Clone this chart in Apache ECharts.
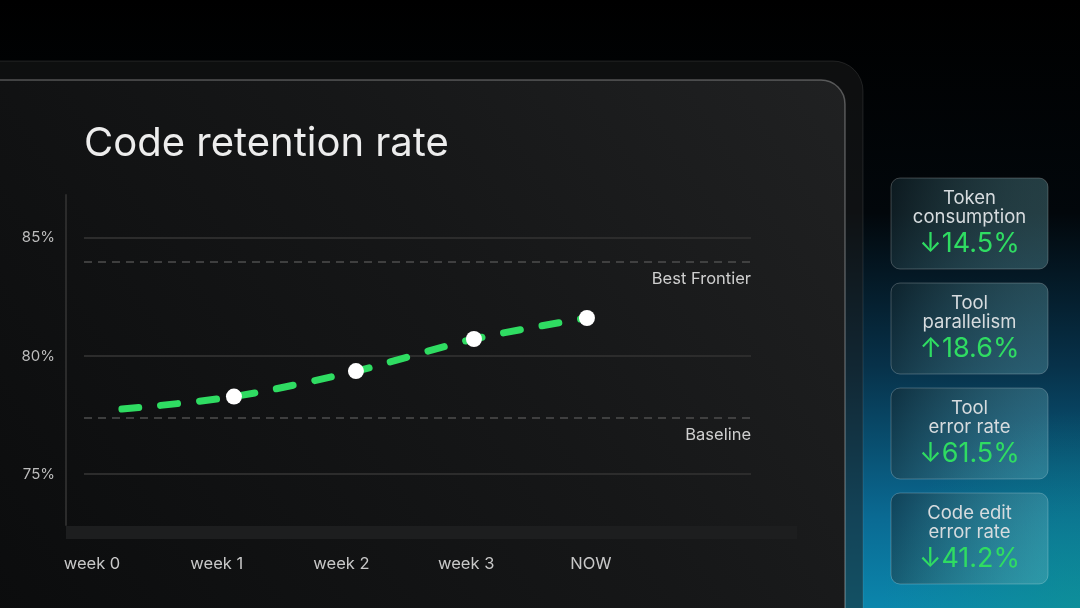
<!DOCTYPE html>
<html>
<head>
<meta charset="utf-8">
<title>Code retention rate</title>
<script src="https://cdn.jsdelivr.net/npm/echarts@6/dist/echarts.min.js"></script>
<style>
  html, body { margin: 0; padding: 0; background: #000; }
  #chart { width: 1080px; height: 608px; }
</style>
</head>
<body>
<div id="chart"></div>
<script>
var weekLabels = ["week 0", "week 1", "week 2", "week 3", "NOW"];
var weekTicks = [0, 1, 2, 3, 4];
// x is in "weeks", the points sit a little off the label ticks
var retentionX = [0.24, 1.138, 2.116, 3.062, 3.968];
var retentionY = [77.75, 78.28, 79.36, 80.72, 81.61];
var yTicks = [75, 80, 85];
var refNames = ["Best Frontier", "Baseline"];
var refValues = [84.0, 77.4];

var cardLabels = [
  ["Token", "consumption"],
  ["Tool", "parallelism"],
  ["Tool", "error rate"],
  ["Code edit", "error rate"]
];
var cardValues = ["\u219314.5%", "\u219118.6%", "\u219361.5%", "\u219341.2%"];

var font = "Inter, 'Open Sans', sans-serif";
var green = "#2fdc62";

var points = retentionX.map(function (x, i) {
  var p = { value: [x, retentionY[i]] };
  if (i == 0) p.symbol = "none";
  return p;
});

var refLines = refValues.map(function (v, i) {
  return { yAxis: v, name: refNames[i] };
});

// background frame + panels
var graphics = [
  {
    type: "rect", z: -10, silent: true,
    shape: { x: -40, y: 61, width: 903, height: 620, r: 30 },
    style: { fill: "rgba(28,28,28,0.5)", stroke: "rgba(255,255,255,0.10)", lineWidth: 1 }
  },
  {
    type: "rect", z: -9, silent: true,
    shape: { x: -40, y: 80, width: 885, height: 600, r: 24 },
    style: {
      fill: new echarts.graphic.LinearGradient(0, 1, 1, 0, [
        { offset: 0, color: "#0a0b0c" },
        { offset: 0.6, color: "#161718" },
        { offset: 1, color: "#202122" }
      ]),
      stroke: "rgba(255,255,255,0.28)", lineWidth: 1.5
    }
  },
  {
    type: "rect", z: -8, silent: true,
    shape: { x: 66, y: 526, width: 731, height: 13 },
    style: { fill: "#1d1e1f" }
  },
  {
    // teal glow bottom right
    type: "rect", z: -11, silent: true,
    shape: { x: 860, y: 300, width: 220, height: 308 },
    style: {
      fill: new echarts.graphic.RadialGradient(1, 1, 0.9, [
        { offset: 0, color: "rgba(16,150,140,0.55)" },
        { offset: 1, color: "rgba(16,150,140,0)" }
      ])
    }
  }
];

cardLabels.forEach(function (lines, i) {
  var top = 178 + i * 105;
  graphics.push({
    type: "rect", z: -5, silent: true,
    shape: { x: 891, y: top, width: 157, height: 91, r: 9 },
    style: {
      fill: new echarts.graphic.LinearGradient(0, 0, 1, 0.4, [
        { offset: 0, color: "rgba(20,40,48,0.55)" },
        { offset: 1, color: "rgba(110,180,190,0.32)" }
      ]),
      stroke: "rgba(255,255,255,0.22)", lineWidth: 1
    }
  });
  lines.forEach(function (t, j) {
    graphics.push({
      type: "text", z: -4, silent: true,
      x: 969.5, y: top + 20 + j * 19,
      style: {
        text: t, fill: "#d6dbde", font: "18.5px " + font,
        textAlign: "center", textVerticalAlign: "middle"
      }
    });
  });
  graphics.push({
    type: "text", z: -4, silent: true,
    x: 969.5, y: top + 66,
    style: {
      text: cardValues[i], fill: green, font: "27px " + font,
      textAlign: "center", textVerticalAlign: "middle"
    }
  });
});

var chart = echarts.init(document.getElementById("chart"));
var option = {
  animation: false,
  backgroundColor: new echarts.graphic.LinearGradient(0, 0, 0, 1, [
    { offset: 0, color: "#000000" },
    { offset: 0.35, color: "#02070b" },
    { offset: 0.6, color: "#073149" },
    { offset: 0.85, color: "#0a6a93" },
    { offset: 1, color: "#0b86ac" }
  ]),
  title: {
    text: "Code retention rate",
    left: 84, top: 124, padding: 0,
    textStyle: { color: "#ededed", fontSize: 40, fontWeight: "normal", fontFamily: font }
  },
  grid: { left: 84, right: 329, top: 195, bottom: 83, containLabel: false, outerBoundsMode: "none" },
  xAxis: {
    type: "value",
    min: -0.064, max: 5.283,
    axisLine: { show: false },
    axisTick: { show: false, customValues: weekTicks },
    splitLine: { show: false },
    axisLabel: {
      customValues: weekTicks,
      margin: 31,
      color: "#c8c8c8", fontSize: 16.5, fontFamily: font,
      formatter: function (v) { return weekLabels[Math.round(v)]; }
    }
  },
  yAxis: {
    type: "value",
    min: 72.84, max: 86.82,
    offset: 18,
    axisLine: { show: true, onZero: false, lineStyle: { color: "#2b2b2b", width: 2 } },
    axisTick: { show: false, customValues: yTicks },
    splitLine: { show: true, lineStyle: { color: "#2c2c2c", width: 2 } },
    axisLabel: {
      customValues: yTicks,
      margin: 11,
      color: "#bdbdbd", fontSize: 15, fontFamily: font,
      formatter: "{value}%"
    }
  },
  graphic: graphics,
  series: [
    {
      name: "Code retention rate",
      type: "line",
      smooth: 0.3,
      data: points,
      symbol: "circle",
      symbolSize: 16,
      itemStyle: { color: "#ffffff" },
      lineStyle: { color: green, width: 7, type: [17, 22], cap: "round" },
      markLine: {
        silent: true,
        symbol: "none",
        lineStyle: { color: "#4d4d4d", width: 1.5, type: [8, 6] },
        label: {
          position: "insideEndBottom",
          distance: [0, 9],
          formatter: "{b}",
          color: "#cfcfcf", fontSize: 16.5, fontFamily: font
        },
        data: refLines
      }
    }
  ]
};
chart.setOption(option);
</script>
</body>
</html>
